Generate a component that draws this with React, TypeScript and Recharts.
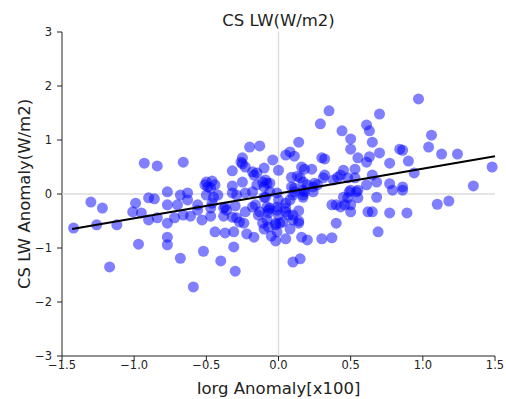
import { Scatter, ScatterChart, XAxis, YAxis } from 'recharts';

// Iorg anomaly (x100) and clear-sky LW anomaly (W/m2)
const iorgAnom = [
  0.97, 0.35, 0.7, 0.29, 0.44, 0.61, 0.63, 1.06, 0.5, 0.5, 0.65, 0.14, 0.08, 0.05, 0.11, -0.04,
  0.0, 0.3, 0.32, 0.55, 0.61, 0.63, 0.16, 0.18, 0.23, 0.45, 0.53, 0.09, 0.13, 0.31, 0.38, 0.41,
  0.48, 0.65, 0.61, -0.06, 0.11, 0.17, 0.24, 0.5, 0.55, 1.04, 0.84, 0.86, 1.13, 1.24, 0.7, 0.77,
  0.9, 0.94, 1.48, 0.68, 0.77, 0.86, 1.35, 1.1, 1.18, 0.77, 0.89, 0.69, 0.68, 0.86, 0.62, 0.65,
  0.37, 0.4, 0.45, 0.46, 0.5, 0.5, 0.55, 0.54, 0.49, 0.4, 0.3, 0.37, 0.16, 0.2, 0.1, 0.15,
  0.05, -0.02, -0.01, -0.02, 0.03, 0.08, 0.14, 0.14, 0.1, 0.14, 0.0, -0.06, -0.01, 0.05, 0.05, 0.08,
  0.1, 0.17, 0.18, 0.24, 0.15, 0.32, 0.43, 0.53, 0.79, 0.17, 0.2, 0.25, 0.27, -0.11, -0.08, 0.09,
  0.11, 0.17, -0.09, 0.0, 0.05, 0.48, 0.43, 0.07, 0.1, -0.08, -0.02, -0.07, -0.08, -0.59, -0.3, -0.4,
  -0.68, -0.52, -0.31, -0.77, -0.77, -0.44, -0.37, -0.31, -0.22, -0.17, -0.1, -0.05, -0.53, -0.47, -0.38, -0.29,
  -0.27, -0.24, -0.23, -0.14, -0.07, -0.77, -0.72, -0.66, -0.61, -0.56, -0.7, -0.77, -0.37, -0.36, -0.3, -0.16,
  -0.1, -0.68, -0.63, -0.5, -0.45, -0.42, -0.32, -0.29, -0.23, -0.18, -0.46, -0.56, -0.47, -0.93, -0.84, -0.66,
  -0.32, -0.25, -0.23, -0.18, -0.17, -0.15, -0.1, -0.2, -0.13, -0.25, -0.25, -0.32, -0.15, -0.09, -0.5, -0.46,
  -0.44, -0.49, -0.77, -0.63, -0.47, -0.06, -0.01, -0.9, -0.86, -0.99, -1.01, -0.95, -0.9, -0.84, -0.38, -0.32,
  -0.18, -0.13, -0.07, -0.01, -1.12, -0.11, 0.01, -1.17, -0.97, -1.42, -1.26, -1.3, -1.22, -0.26, -0.1, -0.51,
];
const lwAnom = [
  1.76, 1.54, 1.48, 1.3, 1.17, 1.28, 1.17, 1.09, 1.02, 0.83, 0.96, 0.96, 0.78, 0.72, 0.7, 0.63,
  0.44, 0.67, 0.65, 0.67, 0.59, 0.69, 0.5, 0.46, 0.46, 0.44, 0.46, 0.31, 0.33, 0.3, 0.26, 0.31,
  0.3, 0.35, 0.17, 0.2, 0.11, 0.07, 0.13, 0.07, 0.07, 0.87, 0.83, 0.81, 0.74, 0.74, 0.76, 0.57,
  0.61, 0.39, 0.5, 0.22, 0.19, 0.13, 0.15, -0.19, -0.13, -0.35, -0.35, -0.7, -0.06, 0.07, -0.33, -0.33,
  -0.2, -0.2, -0.06, -0.2, -0.2, -0.33, -0.07, 0.04, 0.04, -0.54, -0.83, -0.81, -0.8, -0.85, -1.26, -1.2,
  -0.83, -0.87, -0.7, -0.57, -0.52, -0.65, -0.54, -0.5, -0.39, -0.31, -0.39, -0.26, -0.24, -0.26, -0.33, -0.11,
  -0.02, -0.06, 0.04, 0.04, 0.3, 0.35, 0.35, 0.3, 0.07, 0.22, 0.17, 0.2, 0.17, 0.22, 0.2, 0.13,
  0.04, -0.02, -0.06, -0.11, -0.17, -0.07, -0.24, -0.39, -0.48, -0.48, -0.54, -0.61, -0.24, -1.72, -1.43, -1.24,
  -1.19, -1.06, -0.98, -0.8, -0.94, -0.7, -0.72, -0.7, -0.74, -0.8, -0.65, -0.78, -0.48, -0.41, -0.41, -0.44,
  -0.52, -0.54, -0.33, -0.39, -0.35, -0.54, -0.44, -0.39, -0.41, -0.3, -0.2, -0.2, -0.24, -0.3, -0.22, -0.2,
  -0.06, -0.02, 0.02, -0.02, -0.06, -0.02, 0.02, -0.02, 0.02, 0.04, -0.17, -0.2, -0.26, 0.57, 0.52, 0.59,
  0.43, 0.56, 0.5, 0.41, 0.35, 0.39, 0.48, 0.87, 0.89, 0.67, 0.22, 0.15, 0.17, 0.26, 0.22, 0.24,
  0.17, 0.13, 0.04, -0.11, 0.11, 0.04, 0.02, -0.07, -0.09, -0.17, -0.33, -0.35, -0.48, -0.44, -0.26, -0.43,
  -0.24, -0.33, -0.3, -0.3, -0.57, -0.54, -0.54, -1.35, -0.93, -0.63, -0.57, -0.15, -0.26, 0.59, 0.13, 0.17,
];

// end points of the regression line
const fitX = [-1.43, 1.5];
const fitY = [-0.65, 0.7];

const xTicks = [-1.5, -1, -0.5, 0, 0.5, 1, 1.5];
const yTicks = [-3, -2, -1, 0, 1, 2, 3];

const points = iorgAnom.map((x, i) => ({ x, y: lwAnom[i] }));
const fitLine = fitX.map((x, i) => ({ x, y: fitY[i] }));
const zeroV = [{ x: 0, y: yTicks[0] }, { x: 0, y: yTicks[yTicks.length - 1] }];
const zeroH = [{ x: xTicks[0], y: 0 }, { x: xTicks[xTicks.length - 1], y: 0 }];

const FONT = '"DejaVu Sans", sans-serif';
const minus = (s: string) => s.replace('-', '\u2212');

const Dot = (p: any) => (
  <circle cx={p.cx} cy={p.cy} r={5.5} fill="#0000ff" fillOpacity={0.5} />
);
const NoDot = () => <g />;

export default function App() {
  return (
    <div style={{ position: 'absolute', left: 0, top: 0, width: 506, height: 399, background: '#fff' }}>
      <ScatterChart
        width={506}
        height={399}
        margin={{ top: 32, right: 11, bottom: 0, left: 0 }}
        style={{ fontFamily: FONT }}
      >
        <XAxis
          type="number"
          dataKey="x"
          domain={[-1.5, 1.5]}
          ticks={xTicks}
          interval={0}
          height={43}
          tickSize={5}
          tickMargin={0}
          stroke="#222"
          tick={{ fill: '#222', fontSize: 11.5 }}
          tickFormatter={(v: number) => minus(v.toFixed(1))}
        />
        <YAxis
          type="number"
          dataKey="y"
          domain={[-3, 3]}
          ticks={yTicks}
          interval={0}
          width={62}
          tickSize={5}
          tickMargin={5}
          stroke="#222"
          tick={{ fill: '#222', fontSize: 11.5 }}
          tickFormatter={(v: number) => minus(String(v))}
        />
        <Scatter
          data={zeroV}
          line={{ stroke: '#dddddd', strokeWidth: 1.5 }}
          shape={NoDot}
          legendType="none"
          isAnimationActive={false}
        />
        <Scatter
          data={zeroH}
          line={{ stroke: '#dddddd', strokeWidth: 1.5 }}
          shape={NoDot}
          legendType="none"
          isAnimationActive={false}
        />
        <Scatter data={points} shape={Dot} isAnimationActive={false} />
        <Scatter
          data={fitLine}
          line={{ stroke: '#000', strokeWidth: 2 }}
          shape={NoDot}
          legendType="none"
          isAnimationActive={false}
        />
      </ScatterChart>
      <svg
        width={506}
        height={399}
        style={{ position: 'absolute', left: 0, top: 0, pointerEvents: 'none', fontFamily: FONT }}
      >
        <text x={278.5} y={26} textAnchor="middle" fontSize={16.5} fill="#222">
          CS LW(W/m2)
        </text>
        <text x={278.5} y={393.5} textAnchor="middle" fontSize={16.5} fill="#222">
          Iorg Anomaly[x100]
        </text>
        <text
          x={29.5}
          y={194}
          textAnchor="middle"
          fontSize={16.5}
          fill="#222"
          transform="rotate(-90 29.5 194)"
        >
          CS LW Anomaly(W/m2)
        </text>
      </svg>
    </div>
  );
}
